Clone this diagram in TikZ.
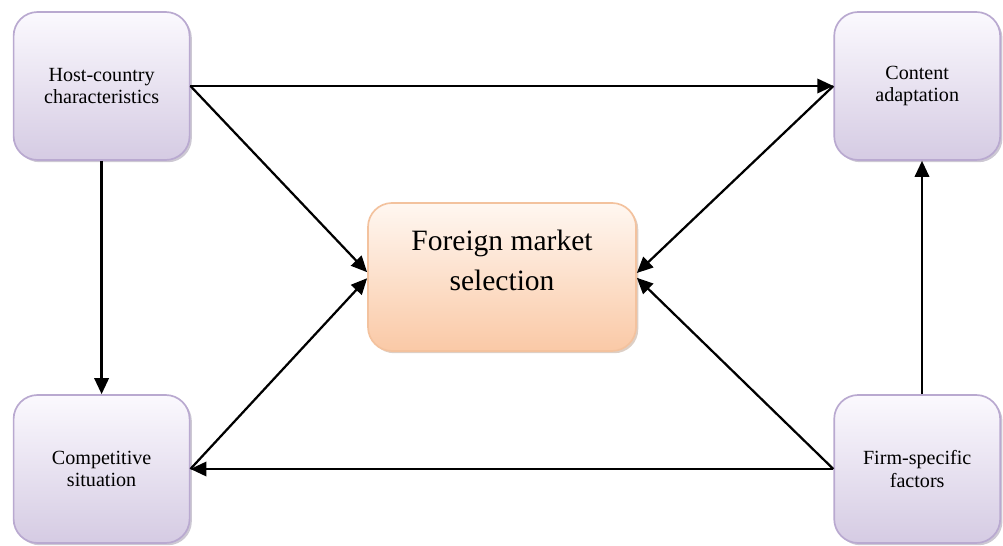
\documentclass[tikz,border=0pt]{standalone}
\usepackage{fontspec}
\setmainfont{Liberation Serif}
\usepackage{tikz}
\usetikzlibrary{arrows.meta,positioning,shadows}
\definecolor{lavtop}{HTML}{FBF9FE}
\definecolor{lavbot}{HTML}{D5CBE3}
\definecolor{lavline}{HTML}{B9A9D0}
\definecolor{peachtop}{HTML}{FFF7F1}
\definecolor{peachbot}{HTML}{FAC9A6}
\definecolor{peachline}{HTML}{F3C29E}

\begin{document}
\begin{tikzpicture}[
    factor/.style={rectangle, draw=lavline, line width=1.2pt, rounded corners=0.6cm,
                   top color=lavtop, bottom color=lavbot,
                   drop shadow={shadow xshift=1.6pt, shadow yshift=-1.6pt, fill=lavline!70!black, opacity=0.4},
                   minimum height=3.7cm, align=center, font=\fontsize{14.3}{16}\selectfont},
    leftbox/.style={factor, minimum width=4.4cm},
    rightbox/.style={factor, minimum width=4.15cm},
    core/.style={rectangle, draw=peachline, line width=1.2pt, rounded corners=0.6cm,
                 top color=peachtop, bottom color=peachbot,
                 drop shadow={shadow xshift=1.6pt, shadow yshift=-1.6pt, fill=peachline!70!black, opacity=0.4},
                 minimum width=6.7cm, minimum height=3.7cm},
    arr/.style={-{Triangle[length=0.4cm, width=0.36cm]}, line width=1.6pt},
]
    \useasboundingbox (0,0) rectangle (25.075,13.65);

    \node[leftbox]  (host) at (2.54,11.5)  {Host-country\\characteristics};
    \node[rightbox] (cont) at (22.93,11.5) {Content\\adaptation};
    \node[leftbox]  (comp) at (2.54,1.925) {Competitive\\situation};
    \node[rightbox] (firm) at (22.93,1.925) {Firm-specific\\factors};
    \node[core]     (fms)  at (12.55,6.725) {};
    \node[align=center, font=\fontsize{21}{28.5}\selectfont] (fmstext)
        at ([yshift=0.42cm]fms.center) {Foreign market\\selection};

    \draw[arr] (host.east) -- (cont.west);
    \draw[arr] (host.east) -- ([yshift=0.12cm]fms.west);
    \draw[arr] (host.south) -- (comp.north);
    \draw[arr] (comp.east) -- ([yshift=-0.03cm]fms.west);
    \draw[arr] (cont.west) -- ([yshift=0.1cm]fms.east);
    \draw[arr] (firm.west) -- ([yshift=-0.02cm]fms.east);
    \draw[arr] (firm.west) -- (comp.east);
    \draw[arr] ([xshift=0.12cm]firm.north) -- ([xshift=0.12cm]cont.south);
\end{tikzpicture}
\end{document}
